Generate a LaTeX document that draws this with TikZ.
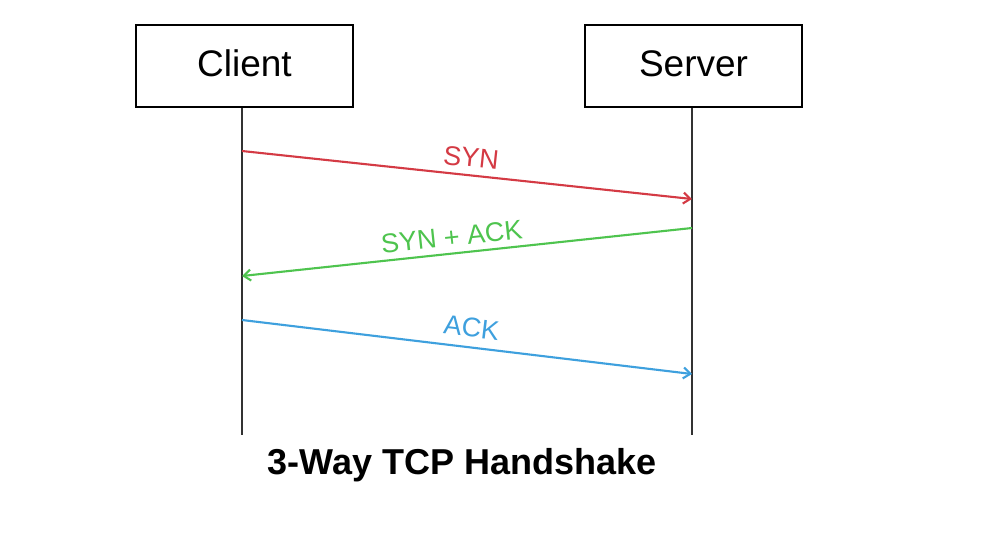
\documentclass[tikz,border=0pt]{standalone}
\usepackage{fontspec}
\setmainfont{Liberation Sans}
\usetikzlibrary{arrows.meta}
\definecolor{synred}{RGB}{212,58,68}
\definecolor{ackgreen}{RGB}{78,196,78}
\definecolor{ackblue}{RGB}{62,160,222}
\definecolor{lifegray}{RGB}{50,50,50}
\begin{document}
\begin{tikzpicture}[x=1pt,y=-1pt,
  party/.style={draw=black,line width=2.2pt,minimum width=217pt,minimum height=82pt,inner sep=0pt,font=\fontsize{37}{42}\selectfont},
  lifeline/.style={draw=lifegray,line width=2.2pt},
  msg/.style={line width=2.1pt,-{Straight Barb[length=7pt,width=11pt,line width=2.1pt]}},
  lbl/.style={font=\fontsize{27}{32}\selectfont,sloped,above,inner sep=1pt}]
\useasboundingbox (0,0) rectangle (988,536);
\fill[white] (0,0) rectangle (988,536);
\node[party] (client) at (244.5,66) {\raisebox{5pt}{Client}};
\node[party] (server) at (693.5,66) {\raisebox{5pt}{Server}};
\coordinate (cb) at (242,435);
\coordinate (sb) at (692,435);
\draw[lifeline] (client.south) ++(-2.5,0) -- (cb);
\draw[lifeline] (server.south) ++(-1.5,0) -- (sb);
\coordinate (c1) at (242,151);
\coordinate (s1) at (692,199);
\coordinate (s2) at (692,228);
\coordinate (c2) at (242,276);
\coordinate (c3) at (242,320);
\coordinate (s3) at (692,374);
\draw[msg,synred] (c1) -- node[lbl,pos=0.505,yshift=6pt] {SYN} (s1);
\draw[msg,ackgreen] (s2) -- node[lbl,pos=0.53,yshift=5pt] {SYN + ACK} (c2);
\draw[msg,ackblue] (c3) -- node[lbl,pos=0.505,yshift=8pt] {ACK} (s3);
\node[font=\bfseries\fontsize{36}{42}\selectfont] (title) at (462,465) {3-Way TCP Handshake};
\end{tikzpicture}
\end{document}
